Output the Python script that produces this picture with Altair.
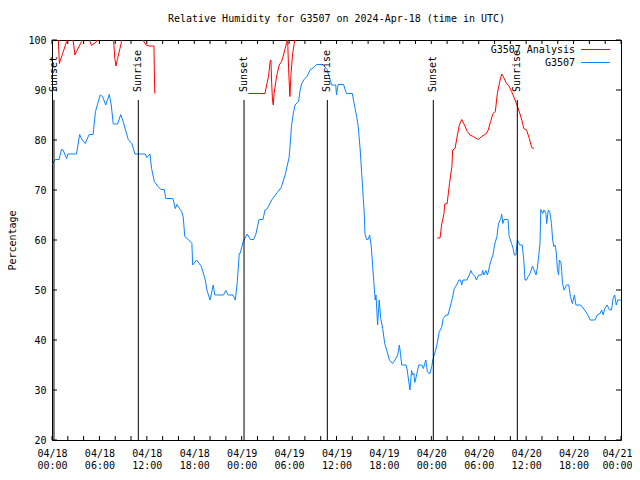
import json
import altair as alt
import pandas as pd

# ---------------- data ----------------
blue_hours = [0.08, 0.4, 0.9, 1.2, 1.4, 1.85, 2.0, 3.1, 3.5, 3.75, 4.2, 4.7, 5.2, 5.5, 6.1, 6.4, 6.8, 7.25, 7.5, 7.75,
              8.3, 8.7, 9.0, 9.65, 10.1, 10.5, 11.8, 12.0, 12.4, 12.6, 12.95, 13.4, 13.8, 14.2, 14.4, 15.3, 15.6, 15.8,
              16.4, 16.6, 16.8, 17.25, 17.7, 17.8, 18.3, 18.9, 19.4, 19.6, 20.0, 20.4, 20.6, 21.7, 22.0, 22.3, 22.9,
              23.2, 23.45, 23.7, 23.8, 24.2, 24.7, 25.1, 25.5, 25.8, 26.2, 26.7, 26.95, 27.25, 27.8, 28.5, 29.0, 29.5,
              30.0, 30.1, 30.3, 30.5, 30.75, 31.2, 31.4, 31.6, 31.9, 32.3, 32.65, 33.1, 33.5, 34.3, 34.8, 35.2, 35.4,
              35.9, 36.0, 36.2, 36.9, 37.1, 37.3, 38.0, 38.3, 38.55, 38.75, 39.0, 39.2, 39.4, 39.5, 39.6, 39.8, 40.0,
              40.2, 40.4, 40.6, 40.75, 40.9, 41.0, 41.1, 41.2, 41.4, 41.6, 41.85, 42.1, 42.4, 42.7, 43.1, 43.4, 43.75,
              43.95, 44.1, 44.25, 44.8, 44.95, 45.2, 45.3, 45.5, 45.65, 45.8, 45.9, 46.1, 46.4, 46.8, 47.0, 47.3, 47.5,
              47.8, 48.05, 48.2, 48.5, 48.75, 49.0, 49.3, 49.5, 49.85, 50.1, 50.45, 50.65, 50.9, 51.2, 51.5, 51.7,
              51.85, 52.0, 52.5, 52.8, 53.0, 53.2, 53.5, 53.7, 54.0, 54.35, 54.5, 54.65, 54.9, 55.1, 55.3, 55.5, 55.8,
              56.0, 56.3, 56.5, 56.8, 56.9, 57.05, 57.2, 57.7, 57.85, 58.15, 58.35, 58.5, 58.7, 58.8, 58.9, 59.2, 59.5,
              59.7, 59.85, 60.05, 60.25, 60.5, 60.8, 61.0, 61.25, 61.4, 61.55, 61.75, 61.85, 62.1, 62.25, 62.5, 62.6,
              62.8, 63.0, 63.2, 63.35, 63.5, 63.65, 63.8, 63.95, 64.1, 64.2, 64.4, 64.5, 64.6, 64.8, 65.1, 65.4, 65.6,
              65.85, 66.1, 66.3, 66.9, 67.4, 67.8, 68.1, 68.7, 69.0, 69.35, 69.55, 69.75, 69.95, 70.25, 70.5, 70.8,
              71.0, 71.2, 71.4, 71.6, 72.0]
blue_values = [75.2, 76.1, 76.1, 78.1, 78.0, 76.3, 77.2, 77.2, 81.1, 80.2, 79.3, 81.1, 81.1, 85.7, 89.0, 88.7, 87.0, 89.1, 87.0, 83.2,
               83.2, 85.1, 83.7, 80.1, 79.3, 77.2, 77.2, 76.5, 77.2, 74.3, 71.7, 70.7, 70.1, 70.1, 68.3, 68.3, 66.3, 67.1,
               65.7, 64.7, 60.7, 60.1, 59.3, 55.0, 56.0, 54.7, 52.0, 50.0, 48.0, 51.0, 49.0, 49.0, 49.9, 49.0, 49.0,
               48.0, 51.7, 57.3, 57.3, 59.7, 61.2, 60.1, 60.1, 61.2, 64.1, 64.1, 66.0, 66.3, 68.0, 69.5, 70.5, 73.0,
               76.5, 78.3, 82.7, 85.0, 87.0, 87.7, 90.0, 91.3, 92.1, 92.8, 94.0, 94.5, 95.1, 95.1, 94.1, 92.0, 91.0,
               91.0, 89.0, 91.1, 91.1, 90.0, 89.3, 89.3, 86.7, 84.7, 82.7, 78.0, 73.0, 68.0, 65.7, 61.3, 60.1, 60.1,
               61.0, 58.7, 54.3, 51.0, 48.0, 49.0, 46.0, 43.0, 48.0, 44.3, 42.3, 39.3, 37.7, 36.0, 35.3, 36.0, 37.0,
               39.0, 37.3, 35.0, 35.0, 34.0, 31.0, 30.0, 33.9, 33.0, 33.3, 31.5, 32.7, 35.0, 35.0, 34.3, 36.0, 33.7,
               33.2, 34.7, 36.1, 37.7, 39.3, 41.7, 42.5, 44.3, 45.0, 45.0, 47.0, 48.3, 50.3, 51.0, 52.0, 52.0,
               51.0, 52.0, 52.0, 53.0, 53.9, 53.2, 52.8, 52.0, 53.0, 53.0, 53.9, 53.0, 53.9, 53.0, 54.3, 55.7, 57.0,
               59.0, 60.7, 63.3, 64.3, 65.2, 63.3, 64.1, 64.1, 60.7, 59.3, 58.3, 57.0, 57.0, 58.7, 60.0, 59.0, 59.0,
               56.0, 52.0, 52.0, 52.7, 53.3, 54.8, 54.0, 53.0, 54.3, 56.3, 59.3, 66.1, 65.3, 66.0, 65.3, 63.3,
               66.0, 65.5, 63.3, 60.0, 58.7, 59.0, 57.7, 54.3, 53.0, 56.0, 55.5, 53.7, 51.3, 50.0, 51.0, 51.0, 48.7,
               47.3, 49.0, 47.0, 47.0, 46.0, 45.0, 44.0, 44.0, 45.0, 45.3, 46.0, 45.0, 46.3, 47.0, 46.1, 46.0,
               48.3, 49.0, 47.0, 48.0, 48.0]

red_hours = [0.75, 0.93, 1.35, 1.85, 2.0, 2.3, 2.7, 2.9, 3.1, 3.75, 3.95, 4.5, 4.8, 5.0, 5.65, 5.85, 6.5, 7.5, 7.75, 7.95,
             8.1, 8.3, 8.6, 8.8, 9.0, 10.0, 11.1, 11.9, 12.3, 12.9, 12.95, 13.0,
             24.85, 26.95, 27.2, 27.4, 27.6, 27.7, 27.8, 27.9, 28.0, 28.1, 28.35, 28.5, 28.75, 29.05, 29.3, 29.5, 29.7,
             29.8, 29.9, 30.0, 30.1, 30.25, 30.45, 30.65, 30.8, 31.2,
             48.75, 49.1, 49.3, 49.6, 49.7, 50.0, 50.3, 50.6, 50.7, 51.0, 51.3, 51.55, 51.85, 52.2, 52.55, 52.9, 53.3,
             53.95, 54.35, 54.9, 55.2, 55.5, 55.8, 56.1, 56.35, 56.7, 56.9, 57.1, 57.45, 57.85, 58.15, 58.6, 58.9,
             59.2, 59.5, 59.7, 60.05, 60.4, 60.7, 61.0]
red_values = [102, 95.3, 97.3, 99.7, 100.5, 100.2, 99.7, 97.0, 97.7, 99.7, 101, 102, 99.7, 98.9, 99.7, 101, 103, 102, 101, 96.3,
              94.8, 96.3, 98.3, 99.7, 101, 102, 101, 99.0, 98.8, 98.8, 94.0, 89.3,
              89.3, 89.3, 91.3, 92.7, 95.7, 96.0, 91.3, 88.0, 87.0, 89.3, 92.0, 93.3, 95.0, 95.7, 97.0, 98.3, 99.5,
              101, 96.0, 92.0, 88.7, 93.3, 97.3, 99.3, 101, 102,
              60.4, 60.4, 63.0, 65.3, 67.2, 67.3, 71.3, 74.7, 78.0, 78.3, 81.0, 83.0, 84.1, 83.0, 81.7, 81.0, 80.7,
              80.1, 80.7, 81.2, 82.0, 83.7, 85.3, 85.7, 89.3, 92.0, 93.2, 92.7, 91.5, 90.7, 89.7, 88.0, 86.7,
              85.3, 83.7, 82.3, 82.0, 80.3, 78.5, 78.3]
red_segment = [1] * 32 + [2] * 26 + [3] * 40

sun_events = ["Sunset", "Sunrise", "Sunset", "Sunrise", "Sunset", "Sunrise"]
sun_hours = [0.25, 10.92, 24.3, 34.84, 48.25, 58.88]
sun_line_top = 88.0
sun_label_base = 89.6

x_tick_values = [0, 6, 12, 18, 24, 30, 36, 42, 48, 54, 60, 66, 72]
x_tick_dates = ["04/18", "04/18", "04/18", "04/18", "04/19", "04/19", "04/19", "04/19",
                "04/20", "04/20", "04/20", "04/20", "04/21"]
x_tick_times = ["00:00", "06:00", "12:00", "18:00", "00:00", "06:00", "12:00", "18:00",
                "00:00", "06:00", "12:00", "18:00", "00:00"]
x_minor_ticks = list(range(0, 73, 2))
y_tick_values = [20, 30, 40, 50, 60, 70, 80, 90, 100]

title_text = "Relative Humidity for G3507 on 2024-Apr-18 (time in UTC)"
y_title = "Percentage"
legend_names = ["G3507 Analysis", "G3507"]
RED = "#ff0000"
BLUE = "#0a84ff"
FONT = "DejaVu Sans Mono"

# ---------------- frames ----------------
blue_df = pd.DataFrame({"hour": blue_hours, "rh": blue_values})
red_df = pd.DataFrame({"hour": red_hours, "rh": red_values, "seg": red_segment})
sun_df = pd.DataFrame({"hour": sun_hours, "event": sun_events,
                       "top": [sun_line_top] * len(sun_hours),
                       "lab": [sun_label_base] * len(sun_hours)})
xt_df = pd.DataFrame({"hour": x_minor_ticks})
yt_df = pd.DataFrame({"rh": y_tick_values})

W, H = 569, 400
xscale = alt.Scale(domain=[0, 72], nice=False, zero=False)
yscale = alt.Scale(domain=[20, 100], nice=False, zero=False)

label_expr = ("[" + json.dumps(x_tick_dates) + "[round(datum.value/6)], "
              + json.dumps(x_tick_times) + "[round(datum.value/6)]]")

x_axis = alt.Axis(values=x_tick_values, labelExpr=label_expr, title=None,
                  labelPadding=8, labelLineHeight=12, labelAngle=0,
                  labelFlush=False, labelOverlap=False, labelBound=False,
                  labelAlign={"expr": "datum.value >= 72 ? 'right' : 'center'"},
                  labelOffset={"expr": "datum.value >= 72 ? 11 : 0"})
y_axis = alt.Axis(values=y_tick_values, title=y_title, labelPadding=6, titlePadding=10,
                  labelFlush=False, labelOverlap=False)

X = alt.X("hour:Q", scale=xscale, axis=x_axis)
Y = alt.Y("rh:Q", scale=yscale, axis=y_axis)

blue = alt.Chart(blue_df).mark_line(color=BLUE, strokeWidth=1, clip=True).encode(x=X, y=Y, order="hour:Q")
red = alt.Chart(red_df).mark_line(color=RED, strokeWidth=1, clip=True).encode(
    x=alt.X("hour:Q", scale=xscale), y=alt.Y("rh:Q", scale=yscale), detail="seg:N", order="hour:Q")

sun_rules = alt.Chart(sun_df).mark_rule(color="black", strokeWidth=1).encode(
    x=alt.X("hour:Q", scale=xscale), y=alt.Y("top:Q", scale=yscale), y2=alt.value(H))
sun_text = alt.Chart(sun_df).mark_text(angle=270, align="left", baseline="middle",
                                       font=FONT, fontSize=10, color="black").encode(
    x=alt.X("hour:Q", scale=xscale), y=alt.Y("lab:Q", scale=yscale), text="event:N")

xt_bottom = alt.Chart(xt_df).mark_rule(color="black").encode(
    x=alt.X("hour:Q", scale=xscale), y=alt.value(H), y2=alt.value(H - 4))
xt_top = alt.Chart(xt_df).mark_rule(color="black").encode(
    x=alt.X("hour:Q", scale=xscale), y=alt.value(0), y2=alt.value(4))
yt_left = alt.Chart(yt_df).mark_rule(color="black").encode(
    y=alt.Y("rh:Q", scale=yscale), x=alt.value(0), x2=alt.value(5))
yt_right = alt.Chart(yt_df).mark_rule(color="black").encode(
    y=alt.Y("rh:Q", scale=yscale), x=alt.value(W), x2=alt.value(W - 5))

one = alt.Data(values=[{}])
title_mark = alt.Chart(one).mark_text(text=title_text, align="center", baseline="middle",
                                      font=FONT, fontSize=10, color="black").encode(
    x=alt.value(W / 2), y=alt.value(-21))
leg_t1 = alt.Chart(one).mark_text(text=legend_names[0], align="right", baseline="middle",
                                  font=FONT, fontSize=10, color="black").encode(
    x=alt.value(523), y=alt.value(10))
leg_t2 = alt.Chart(one).mark_text(text=legend_names[1], align="right", baseline="middle",
                                  font=FONT, fontSize=10, color="black").encode(
    x=alt.value(523), y=alt.value(22.5))
leg_l1 = alt.Chart(one).mark_rule(color=RED, strokeWidth=1).encode(
    x=alt.value(529), x2=alt.value(558), y=alt.value(9.5))
leg_l2 = alt.Chart(one).mark_rule(color=BLUE, strokeWidth=1).encode(
    x=alt.value(529), x2=alt.value(558), y=alt.value(22.5))

chart = alt.layer(
    blue, red, sun_rules, sun_text, xt_bottom, xt_top, yt_left, yt_right,
    title_mark, leg_t1, leg_t2, leg_l1, leg_l2
).properties(
    width=W, height=H,
    autosize=alt.AutoSizeParams(type="none"),
    padding={"left": 44, "top": 32, "right": 11, "bottom": 32},
).configure_view(
    stroke="black", strokeWidth=1
).configure_axis(
    grid=False, domain=False, ticks=False,
    labelFont=FONT, labelFontSize=10, labelColor="black",
    titleFont=FONT, titleFontSize=10, titleFontWeight="normal", titleColor="black"
)

chart.save("out.html", embed_options={"renderer": "svg", "actions": False})
